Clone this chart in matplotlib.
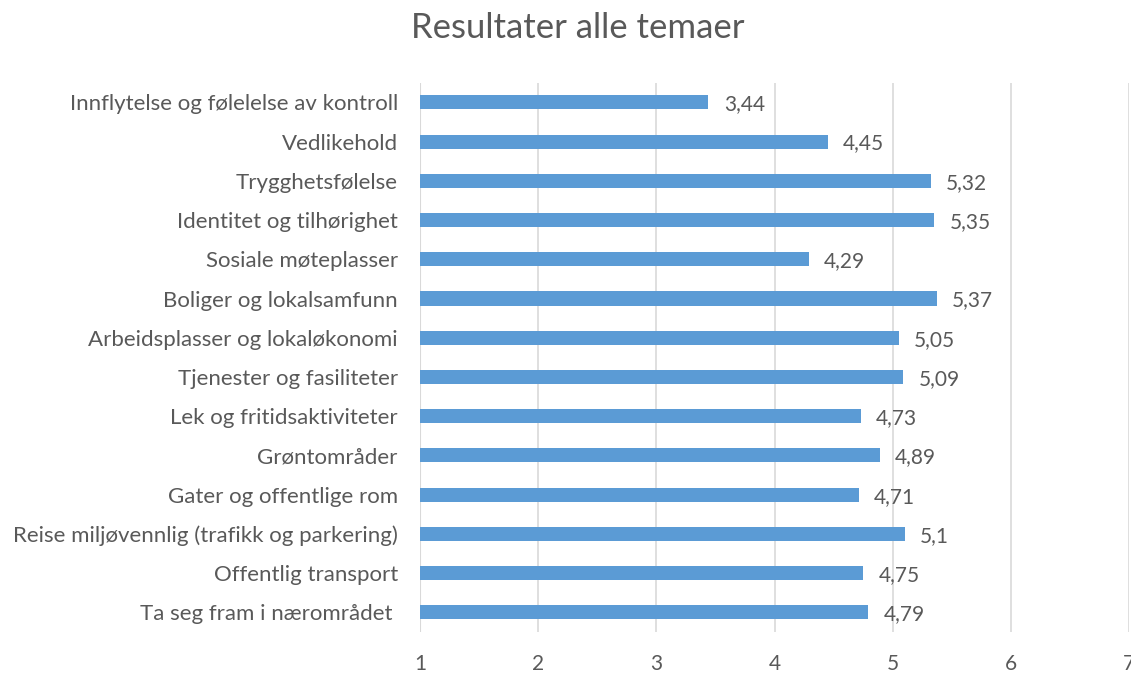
import matplotlib.pyplot as plt

plt.rcParams["font.family"] = ["Lato", "DejaVu Sans"]

categories = [
    "Innflytelse og følelelse av kontroll",
    "Vedlikehold",
    "Trygghetsfølelse",
    "Identitet og tilhørighet",
    "Sosiale møteplasser",
    "Boliger og lokalsamfunn",
    "Arbeidsplasser og lokaløkonomi",
    "Tjenester og fasiliteter",
    "Lek og fritidsaktiviteter",
    "Grøntområder",
    "Gater og offentlige rom",
    "Reise miljøvennlig (trafikk og parkering)",
    "Offentlig transport",
    "Ta seg fram i nærområdet ",
]
values = [3.44, 4.45, 5.32, 5.35, 4.29, 5.37, 5.05, 5.09, 4.73, 4.89, 4.71, 5.1, 4.75, 4.79]
x_ticks = [1, 2, 3, 4, 5, 6, 7]

text_col = "#595959"
bar_col = "#5B9BD5"

fig = plt.figure(figsize=(11.31, 6.73), dpi=100)
ax = fig.add_axes([0.3714, 0.061, 0.627, 0.816])

ypos = list(range(len(categories)))
base = 1
ax.barh(ypos, [v - base for v in values], left=base, height=0.36, color=bar_col, zorder=3)

for y, v in zip(ypos, values):
    lbl = f"{v:.2f}".rstrip("0").rstrip(".").replace(".", ",")
    ax.text(v + 0.13, y + 0.05, lbl, va="center", ha="left", fontsize=15, color=text_col)

ax.set_xlim(1, 7)
ax.set_ylim(len(categories) - 0.5, -0.5)
ax.set_xticks(x_ticks)
ax.set_xticklabels([str(t) for t in x_ticks], fontsize=15, color=text_col)
ax.set_yticks(ypos)
ax.set_yticklabels(categories, fontsize=16, color=text_col)
ax.tick_params(axis="both", length=0)
ax.tick_params(axis="y", pad=16)
ax.tick_params(axis="x", pad=16)
ax.grid(axis="x", color="#D9D9D9", linewidth=1.2, zorder=0)
for s in ax.spines.values():
    s.set_visible(False)
ax.axvline(1, color="#D9D9D9", linewidth=1.5, zorder=1)

fig.text(0.511, 0.958, "Resultater alle temaer", ha="center", va="center",
         fontsize=25, color=text_col)

fig.savefig("out.png", dpi=100)
